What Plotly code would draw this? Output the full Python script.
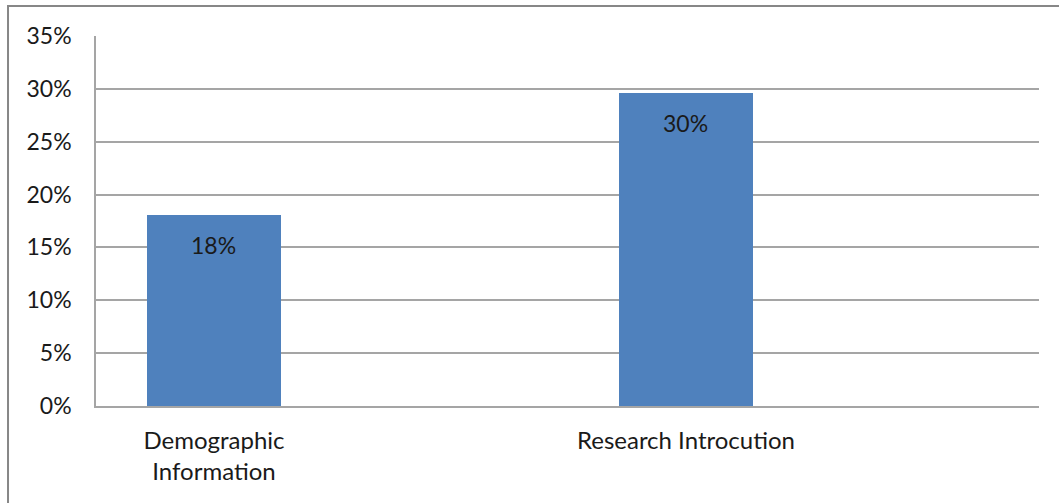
import plotly.graph_objects as go

categories = ["Demographic<br>Information", "Research Introcution"]
shares = [0.181, 0.296]
y_ticks = [0, 0.05, 0.10, 0.15, 0.20, 0.25, 0.30, 0.35]

BAR = "#4f81bd"
GRID = "#a5a5a5"
FONT = "Lato"
TXT = "#1a1a1a"
SIZE = 23

fig = go.Figure()
fig.add_trace(go.Bar(
    x=categories, y=shares, width=0.284,
    marker=dict(color=BAR, line=dict(width=0)),
    hoverinfo="skip",
))

# value labels just inside the top of each bar
for c, v in zip(categories, shares):
    fig.add_annotation(
        x=c, y=v, text=f"{v:.0%}", showarrow=False,
        yanchor="top", yshift=-14,
        font=dict(family=FONT, size=SIZE, color=TXT),
    )

# outer frame around the chart
fig.add_shape(
    type="path", xref="paper", yref="paper",
    path="M -0.0933,-0.3 L -0.0933,1.081 L 1.03,1.081",
    line=dict(color="#878787", width=2),
)

fig.update_layout(
    width=1059, height=503,
    margin=dict(l=96, r=20, t=36, b=97),
    paper_bgcolor="white", plot_bgcolor="white",
    showlegend=False, bargap=0,
    font=dict(family=FONT, size=SIZE, color=TXT),
    xaxis=dict(
        type="category", range=[-0.25, 1.748],
        showgrid=False, showline=True, linecolor=GRID, linewidth=1.5,
        ticks="", ticklabelstandoff=12,
        tickfont=dict(family=FONT, size=24, color=TXT),
    ),
    yaxis=dict(
        range=[0, 0.35], tickvals=y_ticks, tickformat=".0%",
        showgrid=True, gridcolor=GRID, gridwidth=1.5,
        showline=True, linecolor=GRID, linewidth=1.5,
        zeroline=False, ticks="", ticklabelstandoff=18,
        tickfont=dict(family=FONT, size=SIZE, color=TXT),
    ),
)

fig.write_html("out.html")
